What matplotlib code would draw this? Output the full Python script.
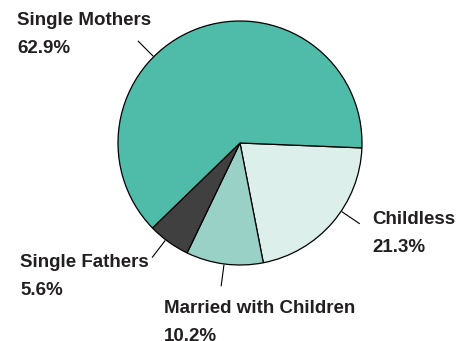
import numpy as np
import matplotlib
matplotlib.use("Agg")
import matplotlib.pyplot as plt

# household types, clockwise from the right-hand edge
labels = ["Childless", "Married with Children", "Single Fathers", "Single Mothers"]
shares = [21.3, 10.2, 5.6, 62.9]
colors = ["#dcefea", "#99d1c6", "#404040", "#4fbba9"]

# where each callout sits (pixel coords, y measured from top) and leader angle
text_pos = [(372, 211), (164, 300), (20, 254), (17, 12)]
leader_deg = [-34, -97.5, -127.5, 135]

W, H = 462, 341
cx, cy, R = 240, 143, 122

plt.rcParams["font.family"] = ["Liberation Sans", "DejaVu Sans"]

fig = plt.figure(figsize=(W / 100, H / 100), dpi=100)
ax = fig.add_axes([0, 0, 1, 1])

ax.pie(shares, colors=colors, startangle=-2.3, counterclock=False,
       center=(cx, H - cy), radius=R,
       wedgeprops=dict(edgecolor="black", linewidth=0.9))
ax.set_xlim(0, W)
ax.set_ylim(0, H)
ax.set_aspect("equal")
ax.axis("off")

for lab, val, (tx, ty), ang in zip(labels, shares, text_pos, leader_deg):
    a = np.deg2rad(ang)
    r0, r1 = R * 1.01, R * 1.18
    ax.plot([cx + r0 * np.cos(a), cx + r1 * np.cos(a)],
            [H - cy + r0 * np.sin(a), H - cy + r1 * np.sin(a)],
            color="black", lw=0.8)
    ax.text(tx, H - ty, f"{lab}\n{val:.1f}%", ha="left", va="top",
            fontsize=13.5, fontweight="bold", color="#231f20", linespacing=1.85)

fig.savefig("out.png", dpi=100)
